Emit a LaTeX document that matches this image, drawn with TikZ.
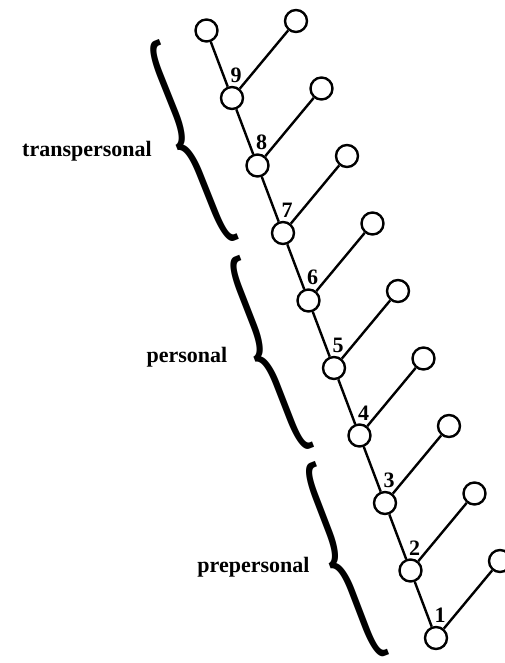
\documentclass[tikz,border=0pt]{standalone}
\usepackage{fontspec}
\setmainfont{Liberation Serif}
\usetikzlibrary{trees,positioning}

\begin{document}
\begin{tikzpicture}
  	[x=1pt,y=-1pt,line width=2.4pt,
   	every node/.style={font=\bfseries\fontsize{22}{26}\selectfont},
   	stage/.style={draw,circle,fill=white,inner sep=0pt,minimum size=22pt},
   	every child node/.style={stage},
   	grow via three points={one child at (-25.5,-67.5) and two children at (64,-77) and (-25.5,-67.5)},
	num/.style={inner sep=0pt},
	band/.style={inner sep=0pt,font=\mdseries\fontsize{10}{10}\selectfont},
	bandname/.style={anchor=base,inner sep=0pt}]
  	\useasboundingbox (0,0) rectangle (505,663);
  	% the ladder, from 1 at the bottom up to 9
  	\node[stage] (s1) at (436,638) {}
     	child {node (l1) {}}
     	child {node (s2) {}
       		child {node (l2) {}}
       		child {node (s3) {}
         		child {node (l3) {}}
         		child {node (s4) {}
           		child {node (l4) {}}
           		child {node (s5) {}
             		child {node (l5) {}}
             		child {node (s6) {}
               		child {node (l6) {}}
               		child {node (s7) {}
                 		child {node (l7) {}}
                 		child {node (s8) {}
                   		child {node (l8) {}}
                   		child {node (s9) {}
                     		child {node (l9) {}}
                     		child {node (s10) {}}
                   		}
                 		}
               		}
             		}
           		}
         		}
       		}
     	};
  	\foreach \i in {1,...,9}
  		\node[num,above=2pt of s\i,xshift=4pt] (n\i) {\i};
  	% the three bands
  	\node[band,rotate=21.8,xscale=8,yscale=26] (btrans) at (188.6,144.2) {\{};
  	\node[band,rotate=21.3,xscale=8,yscale=24.9] (bpers) at (266.1,355.1) {\{};
  	\node[band,rotate=21,xscale=8,yscale=25] (bprepers) at (341.6,562.6) {\{};
  	\node[bandname] (trans) at (87,157) {transpersonal};
  	\node[bandname] (pers) at (187,362) {personal};
  	\node[bandname] (prepers) at (253.5,572) {prepersonal};
\end{tikzpicture}
\end{document}
